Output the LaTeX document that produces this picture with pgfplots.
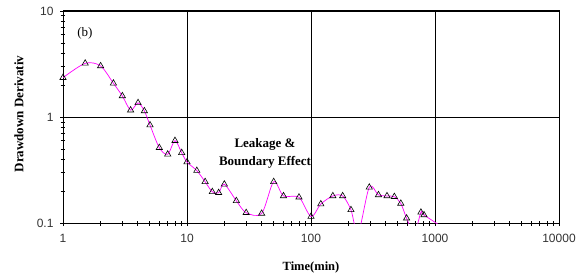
\documentclass[border=0pt]{standalone}
\usepackage{fontspec}
\setmainfont{Liberation Serif}
\setsansfont{Liberation Sans}
\usepackage{pgfplots}
\pgfplotsset{compat=1.18}
\definecolor{mag}{RGB}{255,0,255}
\begin{document}
\begin{tikzpicture}
\useasboundingbox (-63pt,-56pt) rectangle (521pt,223pt);
\begin{axis}[
  at={(0,0)}, anchor=south west,
  scale only axis, width=496pt, height=212pt,
  xmode=log, ymode=log,
  xmin=1, xmax=10000, ymin=0.1, ymax=10,
  xtick={1,10,100,1000,10000},
  xticklabels={1,10,100,1000,10000},
  ytick={0.1,1,10},
  yticklabels={0.1,1,10},
  minor xtick={2,3,4,5,6,7,8,9,20,30,40,50,60,70,80,90,200,300,400,500,600,700,800,900,2000,3000,4000,5000,6000,7000,8000,9000},
  minor ytick={0.2,0.3,0.4,0.5,0.6,0.7,0.8,0.9,2,3,4,5,6,7,8,9},
  xtick pos=left, ytick pos=left,
  tick align=center,
  major tick length=6pt, minor tick length=5pt,
  tick style={black, line width=0.7pt},
  xmajorgrids, ymajorgrids,
  major grid style={black, line width=0.8pt},
  axis line style={black, line width=1pt},
  /pgf/number format/assume math mode=true,
  ticklabel style={font=\sffamily\fontsize{12}{12}\selectfont, text=black!80},
  xticklabel style={yshift=-5pt},
  yticklabel style={xshift=-3pt},
  clip marker paths=false,
]
\addplot[mag, line width=0.7pt, smooth, tension=0.5, no markers] coordinates {
(1.0,2.35) (1.51,3.21) (2.01,3.03) (2.55,2.08) (3.01,1.58) (3.51,1.16) (4.03,1.36)
(4.53,1.14) (5.03,0.84) (5.98,0.513) (6.99,0.445) (8.0,0.598) (9.06,0.46) (10,0.376)
(12,0.312) (14,0.245) (16,0.197) (18,0.193) (20,0.232) (25,0.162) (30,0.125)
(40,0.123) (50,0.245) (60,0.18) (80,0.175) (100,0.115) (120,0.151) (150,0.18)
(180,0.18) (210,0.133) (240,0.08) (295,0.217) (350,0.184) (410,0.18) (470,0.177)
(530,0.153) (590,0.111) (680,0.08) (770,0.126) (815,0.119) (1300,0.083)
};
\addplot[only marks, mark=triangle, mark size=3.6pt,
  mark options={black, fill=white, solid, line width=0.6pt}] coordinates {
(1.0,2.35) (1.51,3.21) (2.01,3.03) (2.55,2.08) (3.01,1.58) (3.51,1.16) (4.03,1.36)
(4.53,1.14) (5.03,0.84) (5.98,0.513) (6.99,0.445) (8.0,0.598) (9.06,0.46) (10,0.376)
(12,0.312) (14,0.245) (16,0.197) (18,0.193) (20,0.232) (25,0.162) (30,0.125)
(40,0.123) (50,0.245) (60,0.18) (80,0.175) (100,0.115) (120,0.151) (150,0.18)
(180,0.18) (210,0.133) (295,0.217) (350,0.184) (410,0.18) (470,0.177)
(530,0.153) (590,0.111) (770,0.126) (815,0.119)
};
\node[font=\fontsize{13}{13}\selectfont] at (axis cs:1.5,6.2) {(b)};
\node[font=\bfseries\fontsize{13}{18}\selectfont, align=center] at (axis cs:42.6,0.457) {Leakage \&\\Boundary Effect};
\end{axis}
\node[font=\bfseries\fontsize{12.5}{12.5}\selectfont] at (248pt,-44pt) {Time(min)};
\node[font=\bfseries\fontsize{13}{13}\selectfont, rotate=90] at (-44pt,109pt) {Drawdown Derivativ};
\end{tikzpicture}
\end{document}
